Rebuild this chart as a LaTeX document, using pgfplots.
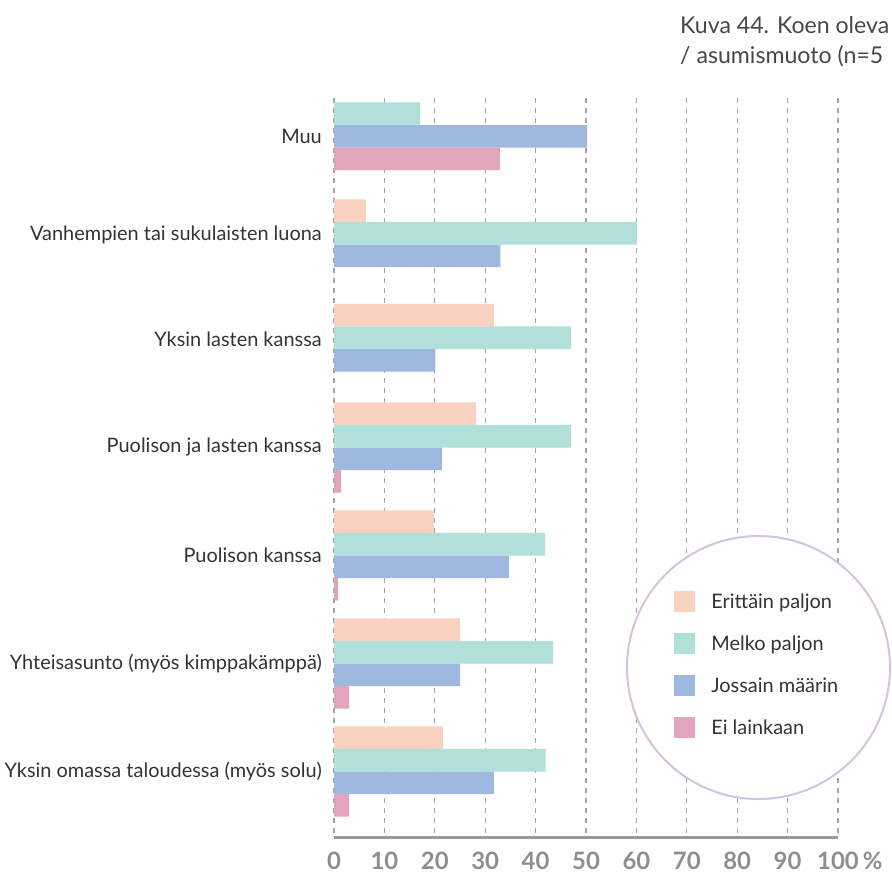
\documentclass[border=0pt]{standalone}
\usepackage{pgfplots}
\pgfplotsset{compat=1.18}
\usepackage{fontspec}
\setmainfont{Lato}

\definecolor{erit}{HTML}{F9D2C1}
\definecolor{melko}{HTML}{B1DFDA}
\definecolor{joss}{HTML}{9EB8DF}
\definecolor{ei}{HTML}{E3A4BE}
\definecolor{ring}{HTML}{D5C2E0}
\definecolor{gridc}{HTML}{A3A3A3}
\definecolor{tickc}{HTML}{8E8E90}
\definecolor{txt}{HTML}{333333}

\pgfplotsset{
  panel/.style={
    scale only axis, width=504bp, height=740bp,
    at={(334bp,-838bp)}, anchor=south west,
    xmin=0, xmax=100, ymin=98, ymax=838, y dir=reverse,
  },
  sq/.style={legend image code/.code={\fill[##1] (0bp,-10.5bp) rectangle (21bp,10.5bp);}},
}

\begin{document}
\begin{tikzpicture}
\useasboundingbox (0,0) rectangle (892bp,-875bp);

% title (only the part that the source shows)
\node[anchor=base west, inner sep=0, font=\fontsize{23.2}{28}\selectfont, text=txt!90] at (680bp,-33bp) {Kuva 44. Koen oleva};
\node[anchor=base west, inner sep=0, font=\fontsize{23.2}{28}\selectfont, text=txt!90] at (680bp,-63bp) {/ asumismuoto (n=5};

\begin{axis}[panel,
  xbar=0pt, bar width=22.6,
  axis line style={draw=none},
  major tick length=0pt,
  xtick={0,10,...,100},
  xticklabels={0,10,20,30,40,50,60,70,80,90,100\rlap{\,\%}},
  xticklabel style={font=\fontsize{24}{28}\selectfont\bfseries, text=tickc, anchor=base, inner sep=0pt, yshift=-31bp},
  ytick={136,235,339,447,555,663,771},
  yticklabels={Muu,Vanhempien tai sukulaisten luona,Yksin lasten kanssa,Puolison ja lasten kanssa,Puolison kanssa,Yhteisasunto (myös kimppakämppä),Yksin omassa taloudessa (myös solu)},
  yticklabel style={font=\fontsize{20}{24}\selectfont, text=txt, anchor=east, inner sep=0pt, xshift=-12bp},
  xmajorgrids,
  grid style={gridc, line width=1.2bp, dash pattern=on 5bp off 5bp},
  clip=false,
]
\addplot[fill=erit, draw=none, bar shift=-33.9] coordinates {
  (6.3,244.5) (31.7,349) (28.2,447.5) (19.8,555.5) (25,663.5) (21.6,771.5)};
\addplot[fill=melko, draw=none, bar shift=-11.3] coordinates {
  (17.1,125) (60.1,244.5) (47,349) (47,447.5) (41.9,555.5) (43.5,663.5) (42,771.5)};
\addplot[fill=joss, draw=none, bar shift=11.3] coordinates {
  (50.2,125) (33,244.5) (20.1,349) (21.4,447.5) (34.7,555.5) (25,663.5) (31.7,771.5)};
\addplot[fill=ei, draw=none, bar shift=33.9] coordinates {
  (32.9,125) (1.4,447.5) (0.8,555.5) (3,663.5) (3,771.5)};
\draw[tickc!90, line width=3bp] (axis cs:0,837) -- (axis cs:100,837);
\end{axis}

% legend circle
\fill[white] (758.5bp,-667.5bp) circle (131.5bp);
\draw[ring, line width=2bp] (758.5bp,-667.5bp) circle (131.5bp);

\begin{axis}[panel, hide axis, sq,
  legend cell align=left,
  legend style={at={(axis cs:66.9,589)}, anchor=north west, draw=none, fill=none,
    font=\fontsize{20}{24}\selectfont, text=txt, row sep=21bp,
    /tikz/every odd column/.append style={column sep=14bp}},
]
\addlegendimage{fill=erit, draw=none}
\addlegendentry{Erittäin paljon}
\addlegendimage{fill=melko, draw=none}
\addlegendentry{Melko paljon}
\addlegendimage{fill=joss, draw=none}
\addlegendentry{Jossain määrin}
\addlegendimage{fill=ei, draw=none}
\addlegendentry{Ei lainkaan}
\end{axis}
\end{tikzpicture}
\end{document}
